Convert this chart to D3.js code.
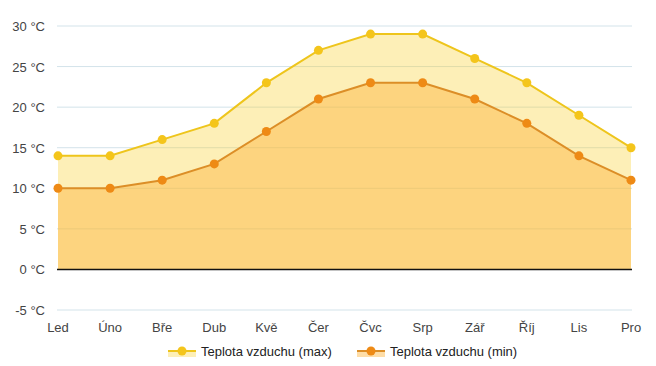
<!DOCTYPE html>
<html>
<head>
<meta charset="utf-8">
<script src="https://cdn.jsdelivr.net/npm/d3@7"></script>
<style>
  body { margin: 0; background: #fff; }
  text { font-family: "Liberation Sans", Arial, sans-serif; }
</style>
</head>
<body>
<script>
// Data
var months = ["Led", "Úno", "Bře", "Dub", "Kvě", "Čer", "Čvc", "Srp", "Zář", "Říj", "Lis", "Pro"];
var maxTemp = [14, 14, 16, 18, 23, 27, 29, 29, 26, 23, 19, 15];
var minTemp = [10, 10, 11, 13, 17, 21, 23, 23, 21, 18, 14, 11];
var yTicks = [-5, 0, 5, 10, 15, 20, 25, 30];
var seriesNames = ["Teplota vzduchu (max)", "Teplota vzduchu (min)"];

var width = 656, height = 366;
var svg = d3.select("body").append("svg")
    .attr("width", width)
    .attr("height", height);

var x = d3.scalePoint().domain(months).range([58, 631]);
var y = d3.scaleLinear().domain([-5, 30]).range([310, 26]);

// Gridlines
svg.append("g")
    .selectAll("line")
    .data(yTicks.filter(d => d !== 0))
    .enter().append("line")
    .attr("x1", 57).attr("x2", 632)
    .attr("y1", d => y(d)).attr("y2", d => y(d))
    .attr("stroke", "#d3e3ea")
    .attr("stroke-width", 1);

// Y labels
svg.append("g")
    .selectAll("text")
    .data(yTicks)
    .enter().append("text")
    .attr("x", 45)
    .attr("y", d => y(d) + 5)
    .attr("text-anchor", "end")
    .attr("font-size", 13)
    .attr("fill", "#444")
    .text(d => d + " °C");

// X labels
svg.append("g")
    .selectAll("text")
    .data(months)
    .enter().append("text")
    .attr("x", d => x(d))
    .attr("y", 332)
    .attr("text-anchor", "middle")
    .attr("font-size", 13)
    .attr("fill", "#444")
    .text(d => d);

var series = [
    { values: maxTemp, fill: "rgba(250,210,50,0.35)", line: "#eec51c", dot: "#f4c51b" },
    { values: minTemp, fill: "rgba(252,180,60,0.45)", line: "#dc8e27", dot: "#ee8a15" }
];

var area = d3.area()
    .x((d, i) => x(months[i]))
    .y0(y(0))
    .y1(d => y(d));

var line = d3.line()
    .x((d, i) => x(months[i]))
    .y(d => y(d));

series.forEach(function (s) {
    svg.append("path")
        .attr("d", area(s.values))
        .attr("fill", s.fill);
});

// Zero line
svg.append("line")
    .attr("x1", 57).attr("x2", 632)
    .attr("y1", y(0)).attr("y2", y(0))
    .attr("stroke", "#111")
    .attr("stroke-width", 1.5);

series.forEach(function (s) {
    svg.append("path")
        .attr("d", line(s.values))
        .attr("fill", "none")
        .attr("stroke", s.line)
        .attr("stroke-width", 2);
    svg.append("g")
        .selectAll("circle")
        .data(s.values)
        .enter().append("circle")
        .attr("cx", (d, i) => x(months[i]))
        .attr("cy", d => y(d))
        .attr("r", 4.5)
        .attr("fill", s.dot);
});

// Legend
var legendX = [168, 357];
series.forEach(function (s, i) {
    var g = svg.append("g").attr("transform", "translate(" + legendX[i] + ",351)");
    g.append("rect")
        .attr("x", 0).attr("y", 0).attr("width", 28).attr("height", 6)
        .attr("fill", s.fill);
    g.append("line")
        .attr("x1", 0).attr("x2", 28).attr("y1", 0).attr("y2", 0)
        .attr("stroke", s.line).attr("stroke-width", 2);
    g.append("circle")
        .attr("cx", 14).attr("cy", 0).attr("r", 4.5)
        .attr("fill", s.dot);
    g.append("text")
        .attr("x", 33).attr("y", 5)
        .attr("font-size", 13)
        .attr("fill", "#222")
        .text(seriesNames[i]);
});
</script>
</body>
</html>
